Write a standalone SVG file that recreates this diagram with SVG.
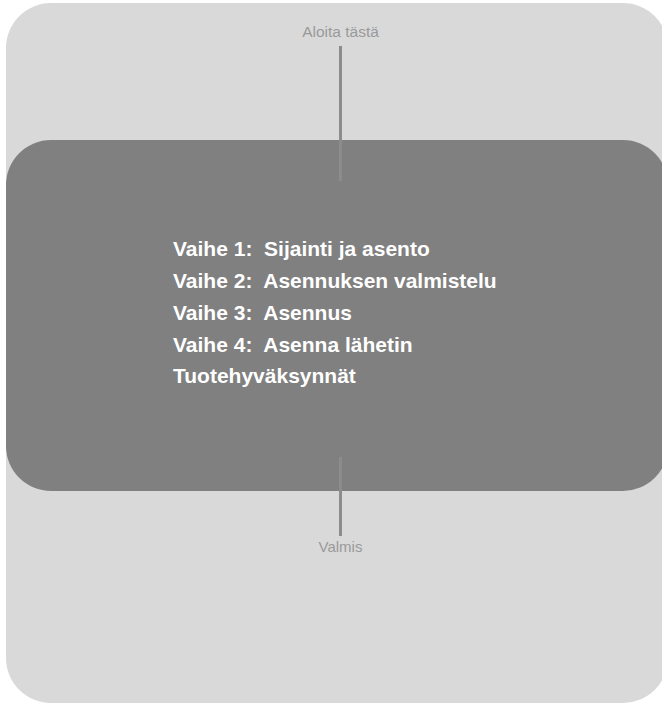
<svg xmlns="http://www.w3.org/2000/svg" width="662" height="705" viewBox="0 0 662 705">
  <style>
    .label { font-family: "Liberation Sans", Arial, sans-serif; fill: #9a9a9a; text-anchor: middle; }
    .step { font-family: "Liberation Sans", Arial, sans-serif; font-weight: bold; font-size: 21px; fill: #ffffff; }
    .conn { stroke: #8c8c8c; stroke-width: 3; fill: none; }
  </style>
  <g id="background">
    <rect x="6" y="3" width="662" height="700" rx="45" ry="45" fill="#d9d9d9"/>
  </g>
  <g id="start">
    <text class="label" x="340.5" y="37" font-size="15.5">Aloita tästä</text>
  </g>
  <g id="steps">
    <rect x="6" y="140" width="662" height="351" rx="45" ry="45" fill="#808080"/>
    <text class="step" x="173" y="256" xml:space="preserve">Vaihe 1:  Sijainti ja asento</text>
    <text class="step" x="173" y="288" xml:space="preserve">Vaihe 2:  Asennuksen valmistelu</text>
    <text class="step" x="173" y="320" xml:space="preserve">Vaihe 3:  Asennus</text>
    <text class="step" x="173" y="352" xml:space="preserve">Vaihe 4:  Asenna lähetin</text>
    <text class="step" x="173" y="383">Tuotehyväksynnät</text>
  </g>
  <g id="end">
    <text class="label" x="340.5" y="552" font-size="15">Valmis</text>
  </g>
  <g id="connectors">
    <line class="conn" x1="340.5" y1="46" x2="340.5" y2="181"/>
    <line class="conn" x1="340.5" y1="457" x2="340.5" y2="536"/>
  </g>
</svg>
